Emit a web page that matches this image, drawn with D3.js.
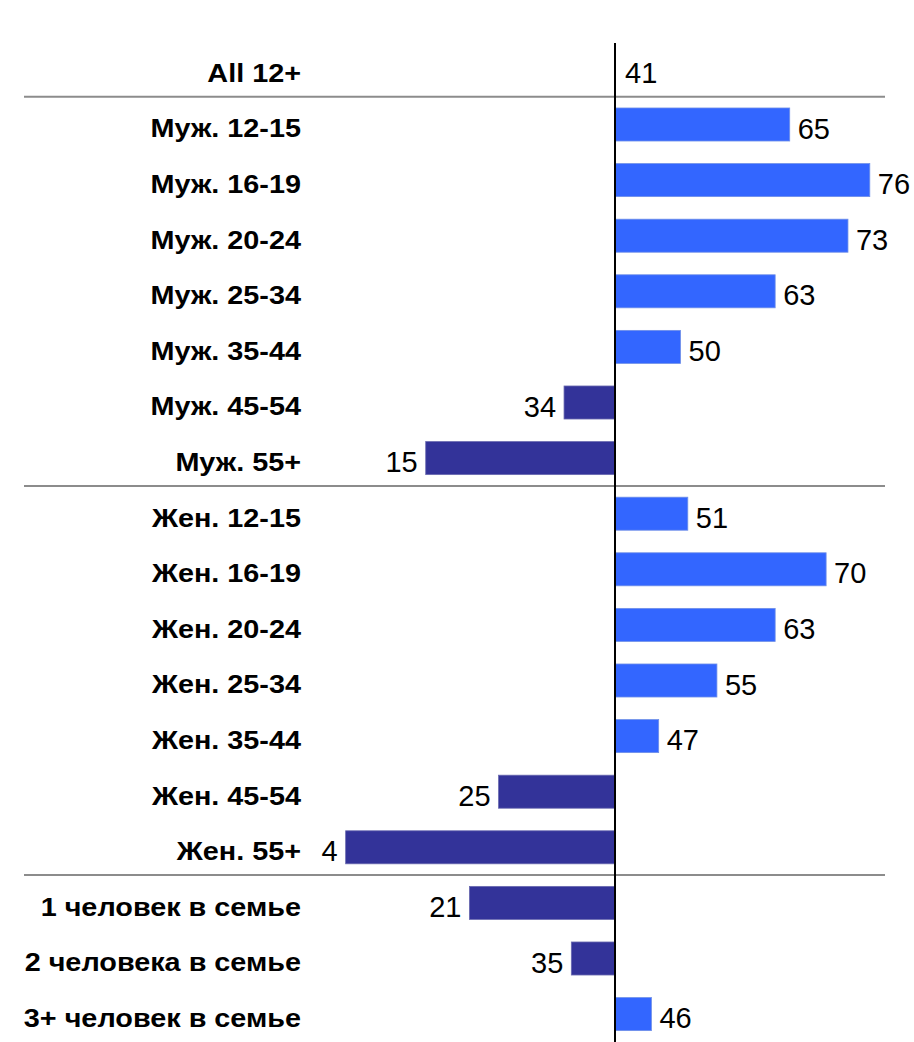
<!DOCTYPE html>
<html>
<head>
<meta charset="utf-8">
<script src="https://cdn.jsdelivr.net/npm/d3@7"></script>
<style>
html,body{margin:0;padding:0;background:#fff;}
svg{display:block;}
</style>
</head>
<body>
<svg id="chart" width="914" height="1042"></svg>
<script>
const categories = ["All 12+","Муж. 12-15","Муж. 16-19","Муж. 20-24","Муж. 25-34","Муж. 35-44","Муж. 45-54","Муж. 55+",
  "Жен. 12-15","Жен. 16-19","Жен. 20-24","Жен. 25-34","Жен. 35-44","Жен. 45-54","Жен. 55+",
  "1 человек в семье","2 человека в семье","3+ человек в семье"];
const values = [41,65,76,73,63,50,34,15,51,70,63,55,47,25,4,21,35,46];
const baseline = 41;
const groupStarts = ["Муж. 12-15","Жен. 12-15","1 человек в семье"];

const svg = d3.select("#chart");
const W = 914, H = 1042;
const k = 7.28;
const x0 = 615;
const x = d3.scaleLinear().domain([0, 80]).range([x0 - baseline*k, x0 + (80-baseline)*k]);
const y = d3.scaleBand().domain(categories).range([41.1, 41.1 + 18*55.6]).paddingInner(0.406).paddingOuter(0.203);
const step = y.step();

const colHigh = "#3366FF", colLow = "#333399";

// separators
svg.selectAll("line.sep").data(groupStarts).enter().append("line")
  .attr("class","sep")
  .attr("x1",24).attr("x2",885)
  .attr("y1",d => y(d) + y.bandwidth()/2 - step/2)
  .attr("y2",d => y(d) + y.bandwidth()/2 - step/2)
  .attr("stroke","#8c8c8c").attr("stroke-width",2);

const rows = categories.map((c,i)=>({c, v: values[i]}));

// bars
svg.selectAll("rect.bar").data(rows.filter(d=>d.v!==baseline)).enter().append("rect")
  .attr("class","bar")
  .attr("x", d => Math.min(x(d.v), x(baseline)))
  .attr("width", d => Math.abs(x(d.v) - x(baseline)))
  .attr("y", d => y(d.c))
  .attr("height", y.bandwidth())
  .attr("fill", d => d.v > baseline ? colHigh : colLow)
  .attr("stroke", d => d.v > baseline ? "#6f8fe8" : "#6a6ab0")
  .attr("stroke-width", 0.8);

// axis line
svg.append("line")
  .attr("x1", x(baseline)).attr("x2", x(baseline))
  .attr("y1", 43).attr("y2", H)
  .attr("stroke", "#000").attr("stroke-width", 2);

// category labels (slightly widened, as in the reference)
svg.selectAll("text.cat").data(rows).enter().append("text")
  .attr("class","cat")
  .attr("transform", d => `translate(301,${y(d.c) + y.bandwidth()/2 + 12.8}) scale(1.13,1)`)
  .attr("text-anchor","end")
  .attr("font-family","'Liberation Sans', Arial, sans-serif")
  .attr("font-weight","bold")
  .attr("font-size", 25.5)
  .attr("fill","#000")
  .text(d => d.c);

// value labels
svg.selectAll("text.val").data(rows).enter().append("text")
  .attr("class","val")
  .attr("x", d => d.v >= baseline ? x(d.v) + (d.v === baseline ? 10 : 8) : x(d.v) - 8)
  .attr("y", d => y(d.c) + y.bandwidth()/2 + 14)
  .attr("text-anchor", d => d.v >= baseline ? "start" : "end")
  .attr("font-family","'Liberation Sans', Arial, sans-serif")
  .attr("font-size", 29)
  .attr("fill","#000")
  .text(d => d.v);
</script>
</body>
</html>
